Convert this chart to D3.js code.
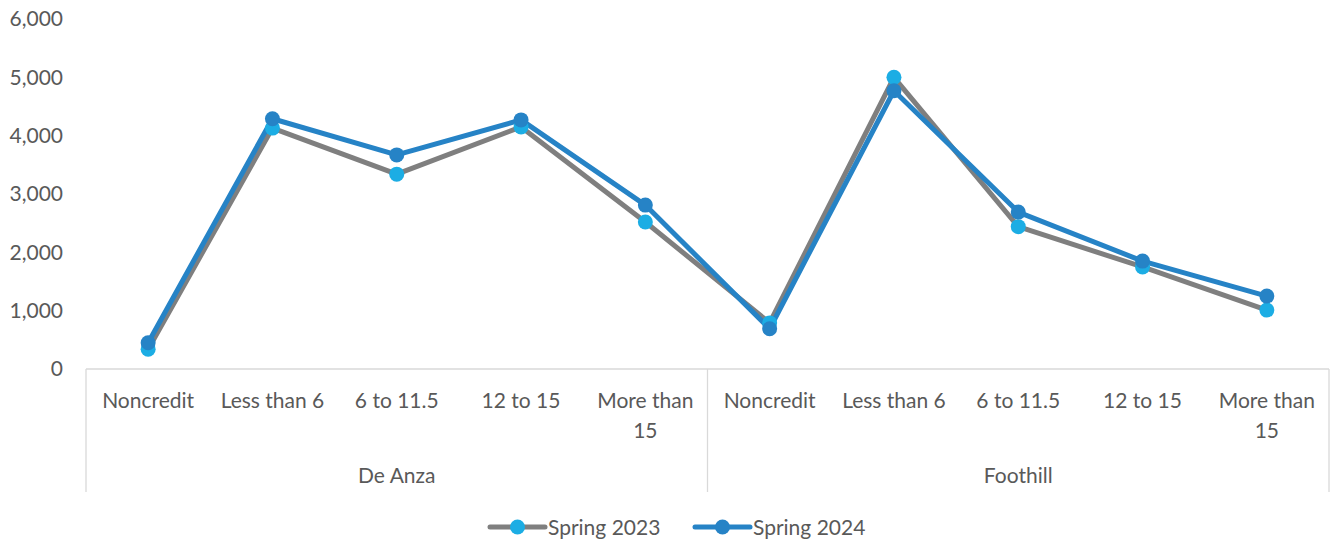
<!DOCTYPE html>
<html>
<head>
<meta charset="utf-8">
<script src="https://cdn.jsdelivr.net/npm/d3@7"></script>
<style>
  body { margin: 0; background: #fff; }
  svg text { font-family: Lato, "Open Sans", sans-serif; fill: #595959; }
</style>
</head>
<body>
<div id="chart"></div>
<script>
const groups = ["De Anza", "Foothill"];
const units = ["Noncredit", "Less than 6", "6 to 11.5", "12 to 15", "More than 15"];
const spring2023 = [340, 4130, 3340, 4150, 2520, 790, 5000, 2440, 1750, 1010];
const spring2024 = [450, 4290, 3670, 4270, 2810, 690, 4770, 2690, 1850, 1250];
const yTicks = [0, 1000, 2000, 3000, 4000, 5000, 6000];

const series = [
    { name: "Spring 2023", values: spring2023, line: "#7f7f7f", marker: "#1cade4" },
    { name: "Spring 2024", values: spring2024, line: "#2683c6", marker: "#2683c6" }
];

const width = 1332, height = 542;
const margin = { top: 19, right: 3, bottom: 173, left: 86 };
const fontSize = "21px";

// one key per (group, unit) pair
const keys = [];
groups.forEach(g => units.forEach(u => keys.push(g + "|" + u)));

const svg = d3.select("#chart").append("svg")
    .attr("width", width)
    .attr("height", height);

const x = d3.scaleBand()
    .domain(keys)
    .range([margin.left, width - margin.right]);

const y = d3.scaleLinear()
    .domain([0, 6000])
    .range([height - margin.bottom, margin.top]);

const fmt = d3.format(",");

// y axis labels only
svg.append("g")
    .attr("transform", `translate(${margin.left - 20},0)`)
    .call(d3.axisLeft(y).tickValues(yTicks).tickSize(0).tickFormat(fmt))
    .call(g => g.select(".domain").remove())
    .call(g => g.selectAll("text")
        .style("font-size", fontSize)
        .attr("fill", "#595959"));

const y0 = y(0);
const axisColor = "#d9d9d9";

// category axis line
svg.append("line")
    .attr("x1", margin.left).attr("x2", width - margin.right)
    .attr("y1", y0).attr("y2", y0)
    .attr("stroke", axisColor).attr("stroke-width", 1.3);

// group dividers
const groupEdges = [margin.left];
groups.forEach(g => groupEdges.push(x(g + "|" + units[units.length - 1]) + x.bandwidth()));
groupEdges.forEach(ex => {
    svg.append("line")
        .attr("x1", ex).attr("x2", ex)
        .attr("y1", y0).attr("y2", 492)
        .attr("stroke", axisColor).attr("stroke-width", 1.3);
});

// category labels (wrapped to band width)
function wrapLabel(textSel, label, maxW) {
    const words = label.split(" ");
    let line = [];
    let tspan = textSel.append("tspan").attr("x", textSel.attr("x")).attr("dy", 0);
    words.forEach(w => {
        line.push(w);
        tspan.text(line.join(" "));
        if (tspan.node().getComputedTextLength() > maxW && line.length > 1) {
            line.pop();
            tspan.text(line.join(" "));
            line = [w];
            tspan = textSel.append("tspan").attr("x", textSel.attr("x")).attr("dy", "30px").text(w);
        }
    });
}

keys.forEach(k => {
    const label = k.split("|")[1];
    const t = svg.append("text")
        .attr("x", x(k) + x.bandwidth() / 2)
        .attr("y", y0 + 39)
        .attr("text-anchor", "middle")
        .style("font-size", fontSize);
    wrapLabel(t, label, x.bandwidth() - 8);
});

groups.forEach(g => {
    const first = x(g + "|" + units[0]);
    const last = x(g + "|" + units[units.length - 1]) + x.bandwidth();
    svg.append("text")
        .attr("x", (first + last) / 2)
        .attr("y", y0 + 114)
        .attr("text-anchor", "middle")
        .style("font-size", fontSize)
        .text(g);
});

// lines and markers
const line = d3.line()
    .x((d, i) => x(keys[i]) + x.bandwidth() / 2)
    .y(d => y(d));

series.forEach(s => {
    svg.append("path")
        .datum(s.values)
        .attr("d", line)
        .attr("fill", "none")
        .attr("stroke", s.line)
        .attr("stroke-width", 5)
        .attr("stroke-linejoin", "round")
        .attr("stroke-linecap", "round");
});

series.forEach(s => {
    svg.selectAll(null)
        .data(s.values)
        .enter().append("circle")
        .attr("cx", (d, i) => x(keys[i]) + x.bandwidth() / 2)
        .attr("cy", d => y(d))
        .attr("r", 7.5)
        .attr("fill", s.marker);
});

// legend
const legendX = [490, 695];
series.forEach((s, i) => {
    const lg = svg.append("g").attr("transform", `translate(${legendX[i]},527)`);
    lg.append("line")
        .attr("x1", 0).attr("x2", 55)
        .attr("stroke", s.line).attr("stroke-width", 5)
        .attr("stroke-linecap", "round");
    lg.append("circle").attr("cx", 27.5).attr("r", 7.5).attr("fill", s.marker);
    lg.append("text")
        .attr("x", 58).attr("y", 7.5)
        .style("font-size", fontSize)
        .text(s.name);
});
</script>
</body>
</html>
